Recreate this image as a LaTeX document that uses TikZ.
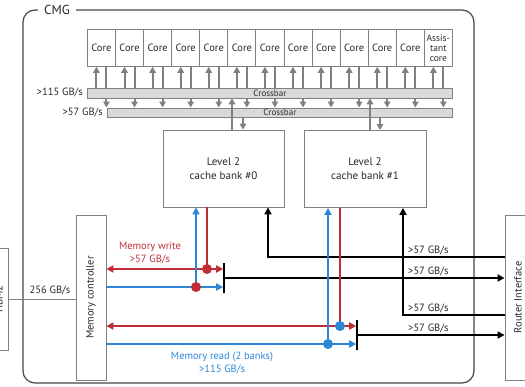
\documentclass[tikz,border=0pt]{standalone}
\usepackage{fontspec}
\usepackage{graphicx}
\setmainfont{PT Sans}
\usetikzlibrary{arrows.meta,calc}
\definecolor{myred}{RGB}{192,45,55}
\definecolor{myblue}{RGB}{45,135,215}
\definecolor{mygray}{RGB}{128,128,128}
\definecolor{xfill}{RGB}{217,217,217}
\definecolor{txt}{RGB}{40,40,40}
\definecolor{cmgc}{RGB}{70,70,70}
\begin{document}
\begin{tikzpicture}[x=1pt,y=-1pt,
  font=\fontsize{10.5}{12}\selectfont, text=txt,
  corebox/.style={draw=mygray, line width=0.8pt, minimum width=28.08pt, minimum height=37pt, inner sep=0pt, anchor=north west},
  xbar/.style={draw=mygray, fill=xfill, line width=0.8pt, inner sep=0pt, anchor=north west, minimum height=9.5pt, font=\fontsize{9}{9}\selectfont},
  cachebox/.style={draw=mygray, line width=0.8pt, minimum width=121pt, minimum height=77pt, inner sep=0pt, align=center, font=\fontsize{11}{14}\selectfont},
  sidebox/.style={draw=mygray, line width=0.8pt, minimum width=30pt, minimum height=165pt, inner sep=0pt},
  garrow/.style={draw=mygray, line width=2pt, -{Triangle[width=6.5pt,length=6pt]}},
  gline/.style={draw=mygray, line width=2pt},
  redl/.style={draw=myred, line width=1.8pt},
  bluel/.style={draw=myblue, line width=1.8pt},
  blk/.style={draw=black, line width=1.8pt},
  Tri/.tip={Triangle[width=7pt,length=7pt]},
  barnode/.style={draw=black, line width=1.6pt, minimum width=0pt, minimum height=30pt, inner sep=0pt},
  rate/.style={anchor=west, inner sep=0pt, font=\fontsize{10.5}{11}\selectfont}
]
\clip (0,0) rectangle (525,386);
% CMG frame
\draw[draw=cmgc, line width=1.2pt, rounded corners=12pt] (23,10) rectangle (474,383);
\node[fill=white, font=\fontsize{13}{14}\selectfont, inner xsep=6pt, inner ysep=1pt] (cmg) at (57,10) {CMG};
% cores
\foreach \i in {0,...,11} {\node[corebox] (c\i) at ({87+28.08*\i},29) {Core};}
\node[corebox, align=center, font=\fontsize{9.5}{10}\selectfont] (c12) at ({87+28.08*12},29) {Assis-\\tant\\core};
% crossbars
\node[xbar, minimum width=365pt] (x1) at (87,88) {Crossbar};
\node[xbar, minimum width=345pt] (x2) at (107,107.5) {Crossbar};
\node[anchor=east, inner sep=0pt] (l115) at (83,92.5) {>115 GB/s};
\node[anchor=east, inner sep=0pt] (l57) at (103,112) {>57 GB/s};
\foreach \i in {0,...,12} {
  \coordinate (cu\i) at ($(c\i.south)+(-5,0)$);
  \coordinate (cd\i) at ($(c\i.south)+(5,0)$);
  \draw[garrow] (cu\i |- x1.north) -- (cu\i);
  \draw[gline] (cd\i) -- (cd\i |- x1.north);
  \draw[garrow] (cd\i |- x1.south) -- (cd\i |- x2.north);
}
% caches
\node[cachebox] (cb0) at (223.5,168.5) {Level 2\\cache bank \#0};
\node[cachebox, minimum width=122pt] (cb1) at (365,169) {Level 2\\cache bank \#1};
\coordinate (k0u) at (232,0); \coordinate (k0d) at (243,0);
\coordinate (k1u) at (370,0); \coordinate (k1d) at (380,0);
\draw[garrow] (k0u |- cb0.north) -- (k0u |- x1.south);
\draw[garrow] (k0d |- x2.south) -- (k0d |- cb0.north);
\draw[garrow] (k1u |- cb1.north) -- (k1u |- x1.south);
\draw[garrow] (k1d |- x2.south) -- (k1d |- cb1.north);
% side boxes
\node[sidebox] (mc) at (91,297.5) {\rotatebox{90}{Memory controller}};
\node[sidebox, minimum width=26pt] (ri) at (518,297.5) {\rotatebox{90}{Router Interface}};
\node[sidebox, minimum width=18pt, minimum height=102pt] (hbm) at (-1,299) {\rotatebox{90}{HBM2}};
\draw[draw=mygray, line width=1pt] (hbm.east) -- (hbm.east -| mc.west);
\node[inner sep=0pt] (l256) at (50,290) {256 GB/s};
% bars
\node[barnode] (bar0) at (224,278) {};
\node[barnode] (bar1) at (357,335) {};
% black connections
\coordinate (k1) at (268,257);
\coordinate (k3) at (403,315);
\draw[blk, -Tri] (ri.west |- k1) -- (k1) -- (k1 |- cb0.south);
\draw[blk, -Tri] (bar0.east) -- (bar0.east -| ri.west);
\draw[blk, -Tri] (ri.west |- k3) -- (k3) -- (k3 |- cb1.south);
\draw[blk, -Tri] (bar1.east) -- (bar1.east -| ri.west);
\node[rate] (t1) at (408,250.5) {>57 GB/s};
\node[rate] (t2) at (408,271) {>57 GB/s};
\node[rate] (t3) at (408,308.5) {>57 GB/s};
\node[rate] (t4) at (408,328) {>57 GB/s};
% memory write / read, bank 0
\coordinate (w0) at (207,269);
\coordinate (r0) at (196,287);
\draw[redl] (cb0.south -| w0) -- (w0);
\draw[redl, Tri-Tri] (mc.east |- w0) -- (bar0.west |- w0);
\draw[bluel, -Tri] (mc.east |- r0) -- (bar0.west |- r0);
\draw[bluel, -Tri] (r0) -- (r0 |- cb0.south);
\fill[myred] (w0) circle (5);
\fill[myred] (r0) circle (5);
% bank 1
\coordinate (w1) at (340,326);
\coordinate (r1) at (328,344);
\draw[redl] (cb1.south -| w1) -- (w1);
\draw[redl, Tri-Tri] (mc.east |- w1) -- (bar1.west |- w1);
\draw[bluel, -Tri] (mc.east |- r1) -- (bar1.west |- r1);
\draw[bluel, -Tri] (r1) -- (r1 |- cb1.south);
\fill[myblue] (w1) circle (5);
\fill[myblue] (r1) circle (5);
% labels
\node[text=myred, align=center, font=\fontsize{10.5}{13.5}\selectfont] (mw) at (150,253) {Memory write\\>57 GB/s};
\node[text=myblue, align=center, font=\fontsize{10.5}{12.5}\selectfont] (mr) at (222,363) {Memory read (2 banks)\\>115 GB/s};
\end{tikzpicture}
\end{document}
